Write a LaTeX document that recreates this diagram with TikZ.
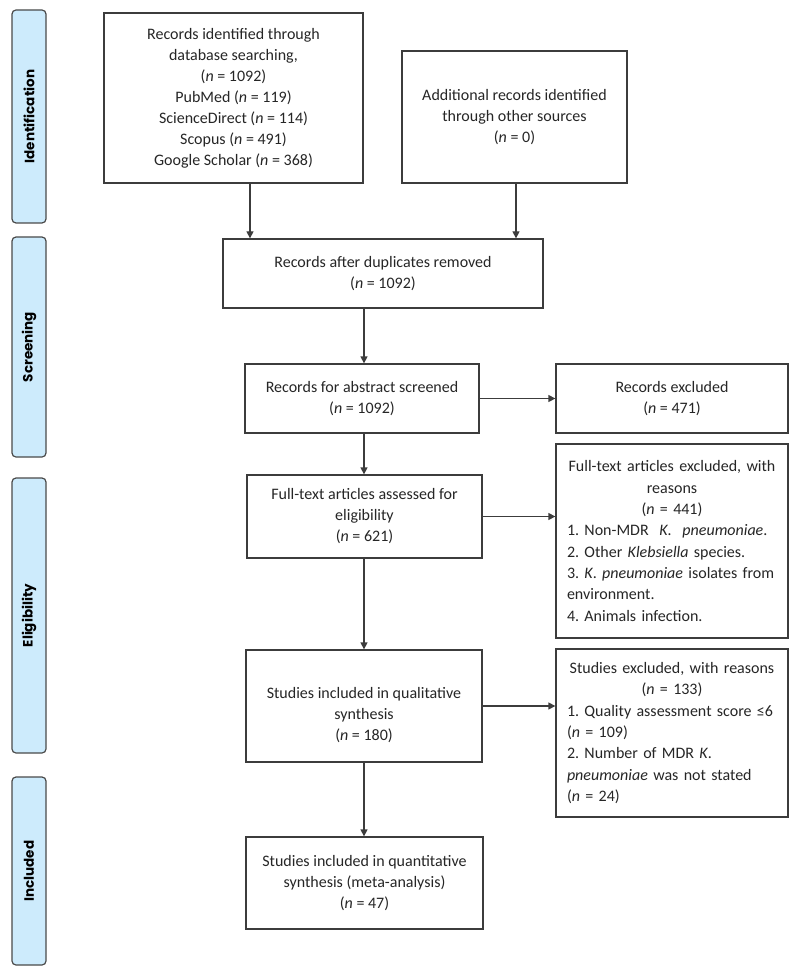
\documentclass[tikz,border=0pt]{standalone}
\usepackage{fontspec}
\setmainfont{Carlito}
\newfontfamily\bandfont{Poppins}
\usetikzlibrary{arrows.meta}
\definecolor{linec}{HTML}{3C3C3C}
\definecolor{bandfill}{HTML}{CDEBFC}
\definecolor{bandline}{HTML}{4A4A4A}
\newcommand{\nn}{\textit{n}}
\frenchspacing
\begin{document}
\frenchspacing
\begin{tikzpicture}[x=1pt,y=-1pt,
  box/.style={draw=linec, line width=1.3pt, align=center, inner sep=0pt,
    font=\fontsize{16}{21}\selectfont, text=black!85},
  txt/.style={align=center, inner sep=0pt, font=\fontsize{16}{21}\selectfont, text=black!85},
  listbox/.style={draw=linec, line width=1.3pt, align=left, inner xsep=11pt, inner ysep=0pt,
    font=\fontsize{16}{21.3}\selectfont, text=black!85},
  band/.style={draw=bandline, fill=bandfill, line width=1.2pt, rounded corners=4pt,
    rotate=90, minimum height=34pt, inner sep=0pt,
    font=\bandfont\bfseries\fontsize{13.5}{15}\selectfont},
  arr/.style={draw=linec, line width=1.3pt, -{Triangle[length=7pt,width=7pt]}}]
\fill[white] (0,0) rectangle (799,976);
\useasboundingbox (0,0) rectangle (799,976);

% phase bands
\node[band, minimum width=213pt] (p1) at (29,116.5) {Identification};
\node[band, minimum width=220pt] (p2) at (29,347) {Screening};
\node[band, minimum width=275pt] (p3) at (29,615.5) {Eligibility};
\node[band, minimum width=188pt] (p4) at (29,871) {Included};

% boxes
\node[box, minimum width=259pt, minimum height=170pt] (b1) at (233.5,98)
  {Records identified through\\ database searching,\\ (\nn{} = 1092)\\ PubMed (\nn{} = 119)\\
   ScienceDirect (\nn{} = 114)\\ Scopus (\nn{} = 491)\\ Google Scholar (\nn{} = 368)};
\node[box, minimum width=225pt, minimum height=132pt] (b2) at (514.5,117)
  {Additional records identified\\ through other sources\\ (\nn{} = 0)};
\node[box, minimum width=320pt, minimum height=69pt] (b3) at (383,273.5)
  {Records after duplicates removed\\ (\nn{} = 1092)};
\node[box, minimum width=234pt, minimum height=69pt] (b4) at (362,398.5)
  {Records for abstract screened\\ (\nn{} = 1092)};
\node[box, minimum width=232pt, minimum height=69pt] (re) at (672,398.5)
  {Records excluded\\ (\nn{} = 471)};
\node[box, minimum width=235pt, minimum height=83pt] (b5) at (364.5,516.5)
  {Full-text articles assessed for\\ eligibility\\ (\nn{} = 621)};
\node[listbox, text width=210pt, minimum height=194pt] (fe) at (672,541)
  {\makebox[\linewidth]{Full-text articles excluded, with}\\
   \makebox[\linewidth]{reasons}\\
   \makebox[\linewidth]{(\nn{} = 441)}\\
   1. Non-MDR\ \ \textit{K.}\ \ \textit{pneumoniae}.\\
   2. Other \textit{Klebsiella} species.\\
   3. \textit{K}. \textit{pneumoniae} isolates from\\
   environment.\\
   4. Animals infection.};
\node[box, minimum width=236pt, minimum height=112pt] (b6) at (364,706) {};
\node[txt] (b6t) at (364,715)
  {Studies included in qualitative\\ synthesis\\ (\nn{} = 180)};
\node[listbox, text width=210pt, minimum height=168pt] (se) at (672,733)
  {\makebox[\linewidth]{Studies excluded, with reasons}\\
   \makebox[\linewidth]{(\nn{} = 133)}\\
   1. Quality assessment score ≤6\\
   (\nn{} = 109)\\
   2. Number of MDR \textit{K}.\\
   \textit{pneumoniae} was not stated\\
   (\nn{} = 24)};
\node[box, minimum width=237pt, minimum height=92pt] (b7) at (364.5,883)
  {Studies included in quantitative\\ synthesis (meta-analysis)\\ (\nn{} = 47)};

% connector columns
\coordinate (cA) at (250,0);
\coordinate (cB) at (516,0);
\coordinate (cC) at (364,0);

\draw[arr] (b1.south -| cA) -- (b3.north -| cA);
\draw[arr] (b2.south -| cB) -- (b3.north -| cB);
\draw[arr] (b3.south -| cC) -- (b4.north -| cC);
\draw[arr] (b4.south -| cC) -- (b5.north -| cC);
\draw[arr] (b5.south -| cC) -- (b6.north -| cC);
\draw[arr] (b6.south -| cC) -- (b7.north -| cC);
\draw[arr] (b4.east) -- (re.west);
\draw[arr] (b5.east) -- (fe.west |- b5.east);
\draw[arr] (b6.east) -- (se.west |- b6.east);
\end{tikzpicture}
\end{document}
